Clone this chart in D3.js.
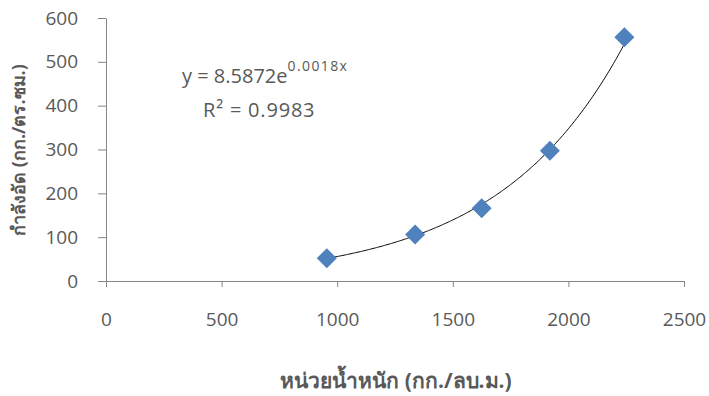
<!DOCTYPE html>
<html><head><meta charset="utf-8">
<script src="https://cdn.jsdelivr.net/npm/d3@7/dist/d3.min.js"></script>
<style>body{margin:0;background:#fff}svg{display:block}</style>
</head><body><div id="c"></div>
<script>
const densities = [955, 1337, 1625, 1920, 2242];
const strengths = [52, 106, 166, 297, 556];
const xTicks = [0, 500, 1000, 1500, 2000, 2500];
const yTicks = [0, 100, 200, 300, 400, 500, 600];
const xTitle = "หน่วยน้ำหนัก (กก./ลบ.ม.)";
const yTitle = "กำลังอัด (กก./ตร.ซม.)";
const eqText = "y = 8.5872e";
const eqExp = "0.0018x";
const r2Text = "R² = 0.9983";

const W = 709, H = 396;
const font = "'Open Sans', 'Noto Sans', sans-serif";
const svg = d3.select("#c").append("svg").attr("width", W).attr("height", H);
const x = d3.scaleLinear().domain([0, 2500]).range([106, 684]);
const y = d3.scaleLinear().domain([0, 600]).range([281, 18]);

const axisColor = "#868686", textColor = "#595959";
const gx = svg.append("g").attr("transform", `translate(0,${y(0)})`)
  .call(d3.axisBottom(x).tickValues(xTicks).tickFormat(d3.format("d")).tickSize(6).tickPadding(26).tickSizeOuter(0));
const gy = svg.append("g").attr("transform", `translate(${x(0)},0)`)
  .call(d3.axisLeft(y).tickValues(yTicks).tickFormat(d3.format("d")).tickSize(8).tickPadding(20).tickSizeOuter(0));
[gx, gy].forEach(g => {
  g.select(".domain").attr("stroke", axisColor);
  g.selectAll(".tick line").attr("stroke", axisColor);
  g.selectAll(".tick text").attr("fill", textColor).style("font-family", font).style("font-size", "19px");
});

// exponential fit via least squares on log(y)
const n = densities.length;
const ly = strengths.map(Math.log);
const mx = d3.mean(densities), my = d3.mean(ly);
let sxy = 0, sxx = 0;
for (let i = 0; i < n; i++) { sxy += (densities[i]-mx)*(ly[i]-my); sxx += (densities[i]-mx)**2; }
const b = sxy / sxx, a = Math.exp(my - b*mx);
const xs = d3.range(densities[0], densities[n-1] + 1, 5);
svg.append("path")
  .attr("d", d3.line().x(d => x(d)).y(d => y(a*Math.exp(b*d)))(xs))
  .attr("fill", "none").attr("stroke", "#000").attr("stroke-width", 1);

svg.append("g").selectAll("path").data(densities).join("path")
  .attr("d", d3.symbol().type(d3.symbolSquare).size(200)())
  .attr("transform", (d, i) => `translate(${x(d)},${y(strengths[i])}) rotate(45)`)
  .attr("fill", "#4F81BD");

const eq = svg.append("text").attr("x", 182).attr("y", 83).attr("fill", textColor)
  .style("font-family", font).style("font-size", "20px");
eq.append("tspan").text(eqText);
eq.append("tspan").attr("dy", -12).style("font-size", "14px").style("letter-spacing", "1.4px").text(eqExp);
svg.append("text").attr("x", 203).attr("y", 117).attr("fill", textColor)
  .style("font-family", font).style("font-size", "20px").style("letter-spacing", "0.8px").text(r2Text);

svg.append("text").attr("x", 396).attr("y", 388).attr("text-anchor", "middle")
  .attr("fill", textColor).style("font-family", font).style("font-size", "21px").style("font-weight", "bold").text(xTitle);
svg.append("text").attr("transform", "translate(25,150) rotate(-90)").attr("text-anchor", "middle")
  .attr("fill", textColor).style("font-family", font).style("font-size", "18px").style("font-weight", "bold").text(yTitle);
</script></body></html>
